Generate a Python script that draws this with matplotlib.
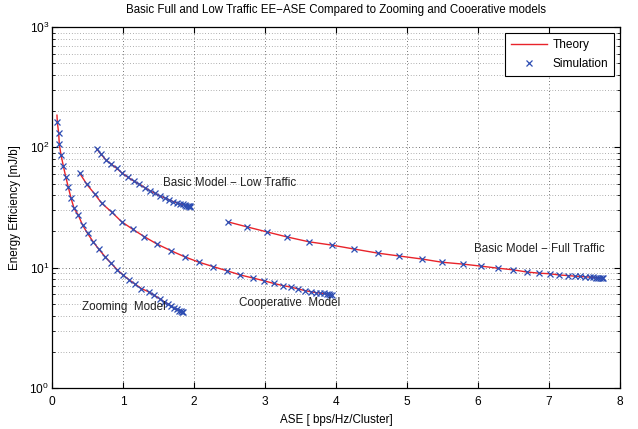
import matplotlib
matplotlib.use("Agg")
import matplotlib.pyplot as plt
from matplotlib.ticker import LogLocator, NullFormatter, FixedLocator

plt.rcParams['font.family'] = ['Liberation Sans', 'DejaVu Sans']

# values (ASE, EE)
zoom_ase = [0.075, 0.094, 0.103, 0.127, 0.159, 0.193, 0.23, 0.268, 0.31, 0.37, 0.43, 0.50,
            0.58, 0.66, 0.75, 0.83, 0.92, 1.00, 1.09, 1.17, 1.26, 1.36, 1.44, 1.52, 1.58,
            1.63, 1.68, 1.72, 1.76, 1.79, 1.81, 1.83, 1.845]
zoom_ee = [162, 131, 106, 86.5, 70.4, 57, 46.6, 37.8, 31.2, 27.4, 22.6, 19.3,
           16.4, 14.2, 12.3, 10.9, 9.6, 8.7, 7.9, 7.3, 6.7, 6.3, 5.9, 5.5, 5.2,
           5.0, 4.8, 4.6, 4.5, 4.4, 4.35, 4.3, 4.25]
zoom_theory_start = (0.07, 185)

coop_ase = [0.39, 0.49, 0.60, 0.70, 0.84, 0.98, 1.14, 1.30, 1.48, 1.68, 1.87, 2.07, 2.27,
            2.47, 2.65, 2.83, 2.98, 3.12, 3.25, 3.36, 3.47, 3.56, 3.65, 3.72, 3.78, 3.83,
            3.87, 3.90, 3.92, 3.94]
coop_ee = [61, 49.3, 41, 34.3, 29, 24.1, 20.8, 18.1, 15.7, 13.8, 12.3, 11.1, 10.2,
           9.4, 8.7, 8.2, 7.8, 7.4, 7.1, 6.9, 6.65, 6.45, 6.3, 6.2, 6.15, 6.1,
           6.05, 6.0, 5.97, 5.95]

low_ase = [0.63, 0.69, 0.76, 0.83, 0.91, 0.99, 1.07, 1.15, 1.23, 1.31, 1.38, 1.45, 1.52,
           1.59, 1.65, 1.71, 1.76, 1.80, 1.84, 1.87, 1.89, 1.91, 1.93, 1.94, 1.95]
low_ee = [97, 87.7, 78.5, 72.8, 67, 60.9, 56.4, 52.6, 49.3, 46.2, 43.6, 41.5, 39.4,
          38, 36.5, 35.4, 34.6, 34.0, 33.5, 33.1, 32.8, 32.6, 32.4, 32.3, 32.2]

full_ase = [2.48, 2.75, 3.03, 3.31, 3.62, 3.94, 4.25, 4.59, 4.89, 5.21, 5.49, 5.79, 6.04,
            6.28, 6.49, 6.69, 6.86, 7.01, 7.14, 7.26, 7.36, 7.44, 7.51, 7.57, 7.62,
            7.66, 7.69, 7.72, 7.74, 7.76]
full_ee = [24, 21.8, 19.8, 18.0, 16.4, 15.4, 14.3, 13.2, 12.5, 11.8, 11.1, 10.7, 10.3,
           9.9, 9.6, 9.2, 9.0, 8.9, 8.7, 8.6, 8.5, 8.45, 8.4, 8.35, 8.3,
           8.28, 8.25, 8.22, 8.2, 8.18]

labels = ["Basic Model \u2212 Low Traffic", "Zooming  Model", "Cooperative  Model",
          "Basic Model \u2212 Full Traffic"]
label_pos = [(1.56, 50.6), (0.42, 4.75), (2.64, 5.1), (5.94, 14.2)]

red = '#e8232a'
blue = '#2d4db3'

fig = plt.figure(figsize=(6.38, 4.29), dpi=100)
ax = fig.add_axes([0.0815, 0.0956, 0.8905, 0.8414])

curves = [(zoom_ase, zoom_ee), (coop_ase, coop_ee), (low_ase, low_ee), (full_ase, full_ee)]
for i, (xs, ys) in enumerate(curves):
    tx, ty = list(xs), list(ys)
    if i == 0:
        tx = [zoom_theory_start[0]] + tx
        ty = [zoom_theory_start[1]] + ty
    ax.plot(tx, ty, color=red, lw=1.0, label="Theory" if i == 0 else None, zorder=2)
    ax.plot(xs, ys, ls='none', marker='x', ms=5, mew=0.9, color=blue,
            label="Simulation" if i == 0 else None, zorder=3)

for txt, (x, y) in zip(labels, label_pos):
    ax.text(x, y, txt, fontsize=8.4, va='center', ha='left', color='#222222')

ax.set_yscale('log')
ax.set_xlim(0, 8)
ax.set_ylim(1, 1000)
ax.xaxis.set_major_locator(FixedLocator(range(0, 9)))
ax.yaxis.set_major_locator(LogLocator(base=10, numticks=10))
ax.yaxis.set_minor_locator(LogLocator(base=10, subs=range(2, 10), numticks=20))
ax.yaxis.set_minor_formatter(NullFormatter())
ax.grid(True, which='major', ls=(0, (1, 3)), color='#444444', lw=0.6)
ax.grid(True, which='minor', axis='y', ls=(0, (1, 3)), color='#666666', lw=0.5)
ax.tick_params(which='both', direction='in', top=True, right=True, labelsize=8.6)
ax.tick_params(which='major', length=4)
ax.tick_params(axis='x', which='major', pad=6)
ax.tick_params(axis='y', which='major', pad=2)
ax.tick_params(which='minor', length=2)
for s in ax.spines.values():
    s.set_linewidth(0.9)

ax.set_title("Basic Full and Low Traffic EE\u2212ASE Compared to Zooming and Cooerative models",
             fontsize=8.3, pad=10)
ax.set_xlabel("ASE [ bps/Hz/Cluster]", fontsize=8.4, labelpad=4)
ax.set_ylabel("Energy Efficiency [mJ/b]", fontsize=8.4, labelpad=6)

leg = ax.legend(loc='upper right', fontsize=8.6, fancybox=False, framealpha=1,
                edgecolor='black', borderaxespad=0.5, handlelength=3.0,
                borderpad=0.5, labelspacing=0.6, handletextpad=0.5)
leg.get_frame().set_linewidth(0.8)

fig.savefig("out.png", dpi=100)
